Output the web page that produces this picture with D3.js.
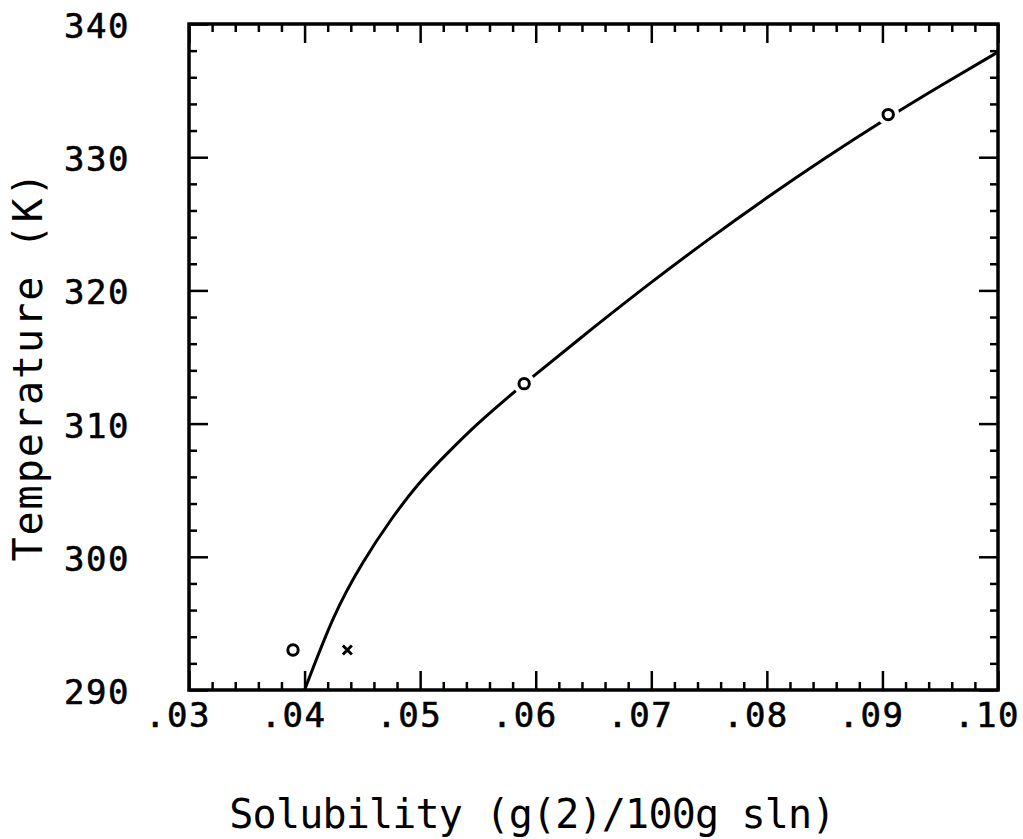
<!DOCTYPE html>
<html>
<head>
<meta charset="utf-8">
<script src="https://cdn.jsdelivr.net/npm/d3@7.9.0/dist/d3.min.js"></script>
<style>
  html, body { margin: 0; padding: 0; background: #fff; }
  svg { display: block; }
  text { font-family: "DejaVu Sans Mono", monospace; fill: #000; }
</style>
</head>
<body>
<div id="chart"></div>
<script>
// data
const xMajor = [0.03, 0.04, 0.05, 0.06, 0.07, 0.08, 0.09, 0.10];
const xLabels = ['.03', '.04', '.05', '.06', '.07', '.08', '.09', '.10'];
const yMajor = [290, 300, 310, 320, 330, 340];

// measured points (circles) and the odd point (cross)
const circleS = [0.0390, 0.0590, 0.0905];
const circleT = [293, 313, 333.2];
const crossS = [0.0437];
const crossT = [293];

// fitted curve as drawn
const curveS = [0.0400, 0.0425, 0.045, 0.0475, 0.050, 0.0525, 0.055, 0.0575, 0.060, 0.065, 0.070, 0.075, 0.080, 0.085, 0.090, 0.095, 0.100];
const curveT = [290, 295.4, 299.5, 302.8, 305.6, 307.9, 310.0, 311.9, 313.7, 317.2, 320.6, 323.85, 326.95, 329.9, 332.7, 335.35, 337.9];

const width = 1023;
const height = 839;
const plot = { left: 189, right: 998, top: 24, bottom: 690 };

const svg = d3.select('#chart')
    .append('svg')
    .attr('width', width)
    .attr('height', height)
    .attr('viewBox', [0, 0, width, height]);

svg.append('rect').attr('width', width).attr('height', height).attr('fill', '#fff');

const x = d3.scaleLinear().domain([0.03, 0.10]).range([plot.left, plot.right]);
const y = d3.scaleLinear().domain([290, 340]).range([plot.bottom, plot.top]);

const xMinor = d3.range(36).filter(i => i % 5 !== 0).map(i => 0.03 + i * 0.002);
const yMinor = d3.range(26).filter(i => i % 5 !== 0).map(i => 290 + i * 2);

const majorLen = 19;
const minorLen = 8;

// inward ticks on all four sides
function ticks(axisFn, scale, values, len, transform) {
    const g = svg.append('g')
        .attr('transform', transform)
        .call(axisFn(scale).tickValues(values).tickSize(-len).tickFormat(''));
    g.select('.domain').remove();
    g.selectAll('line').attr('stroke', '#000').attr('stroke-width', 2.5);
    return g;
}

ticks(d3.axisBottom, x, xMajor, majorLen, `translate(0,${plot.bottom})`);
ticks(d3.axisBottom, x, xMinor, minorLen, `translate(0,${plot.bottom})`);
ticks(d3.axisTop, x, xMajor, majorLen, `translate(0,${plot.top})`);
ticks(d3.axisTop, x, xMinor, minorLen, `translate(0,${plot.top})`);
ticks(d3.axisLeft, y, yMajor, majorLen, `translate(${plot.left},0)`);
ticks(d3.axisLeft, y, yMinor, minorLen, `translate(${plot.left},0)`);
ticks(d3.axisRight, y, yMajor, majorLen, `translate(${plot.right},0)`);
ticks(d3.axisRight, y, yMinor, minorLen, `translate(${plot.right},0)`);

// frame
svg.append('rect')
    .attr('x', plot.left)
    .attr('y', plot.top)
    .attr('width', plot.right - plot.left)
    .attr('height', plot.bottom - plot.top)
    .attr('fill', 'none')
    .attr('stroke', '#000')
    .attr('stroke-width', 3.5);

// tick labels
const labelSize = 34;
const labelSpacing = 1.5;
const cw = 0.602 * labelSize + labelSpacing;

svg.append('g')
    .selectAll('text')
    .data(yMajor)
    .join('text')
    .attr('x', 130)
    .attr('y', d => y(d) + 14)
    .attr('text-anchor', 'end')
    .style('font-size', labelSize + 'px')
    .style('letter-spacing', labelSpacing + 'px')
    .style('stroke', '#000')
    .style('stroke-width', 0.6)
    .text(d => d);

// digits centred on the tick, dot hanging to the left
svg.append('g')
    .selectAll('text')
    .data(xMajor)
    .join('text')
    .attr('x', d => x(d) - 2 * cw)
    .attr('y', 727)
    .attr('text-anchor', 'start')
    .style('font-size', labelSize + 'px')
    .style('letter-spacing', labelSpacing + 'px')
    .style('stroke', '#000')
    .style('stroke-width', 0.6)
    .text((d, i) => xLabels[i]);

// axis titles
svg.append('text')
    .attr('x', 532)
    .attr('y', 828)
    .attr('text-anchor', 'middle')
    .style('font-size', '40px')
    .style('letter-spacing', '-0.8px')
    .text('Solubility (g(2)/100g sln)');

svg.append('text')
    .attr('transform', 'translate(42,366) rotate(-90)')
    .attr('text-anchor', 'middle')
    .style('font-size', '40px')
    .style('letter-spacing', '2px')
    .text('Temperature (K)');

// curve
const curveData = curveS.map((s, i) => ({ s, t: curveT[i] }));
svg.append('path')
    .datum(curveData)
    .attr('fill', 'none')
    .attr('stroke', '#000')
    .attr('stroke-width', 3)
    .attr('d', d3.line()
        .x(d => x(d.s))
        .y(d => y(d.t))
        .curve(d3.curveNatural));

// circles, with a white gap where the line passes
const circleData = circleS.map((s, i) => ({ s, t: circleT[i] }));
svg.append('g')
    .selectAll('circle')
    .data(circleData)
    .join('circle')
    .attr('cx', d => x(d.s))
    .attr('cy', d => y(d.t))
    .attr('r', 11)
    .attr('fill', '#fff');

svg.append('g')
    .selectAll('circle')
    .data(circleData)
    .join('circle')
    .attr('cx', d => x(d.s))
    .attr('cy', d => y(d.t))
    .attr('r', 5.2)
    .attr('fill', '#fff')
    .attr('stroke', '#000')
    .attr('stroke-width', 3);

// cross
const crossData = crossS.map((s, i) => ({ s, t: crossT[i] }));
const xs = 4.5;
svg.append('g')
    .selectAll('path')
    .data(crossData)
    .join('path')
    .attr('d', d => {
        const cx = x(d.s), cy = y(d.t);
        return `M${cx - xs},${cy - xs}L${cx + xs},${cy + xs}M${cx - xs},${cy + xs}L${cx + xs},${cy - xs}`;
    })
    .attr('stroke', '#000')
    .attr('stroke-width', 3);
</script>
</body>
</html>
